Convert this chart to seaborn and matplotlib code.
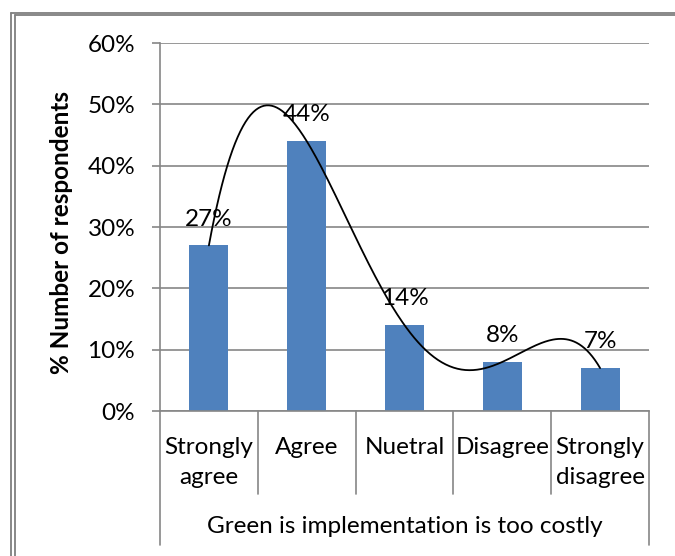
import numpy as np
import pandas as pd
import matplotlib
matplotlib.use("Agg")
import matplotlib.pyplot as plt
import matplotlib.transforms as mtransforms
from matplotlib.lines import Line2D
import seaborn as sns

# Survey responses
categories = ["Strongly\nagree", "Agree", "Nuetral", "Disagree", "Strongly\ndisagree"]
percent = [27, 44, 14, 8, 7]
y_ticks = [0, 10, 20, 30, 40, 50, 60]
group_label = "Green is implementation is too costly"
y_label = "% Number of respondents"

sns.set_style("white")
plt.rcParams["font.family"] = ["Lato", "DejaVu Sans"]

BAR = "#4F81BD"
GRID = "#868686"
FS = 17.5
W, H = 675, 556

fig = plt.figure(figsize=(W / 100, H / 100), dpi=100)
ax = fig.add_axes([160 / W, (H - 411) / H, (649 - 160) / W, (411 - 43) / H])

df = pd.DataFrame({"category": categories, "percent": percent})
sns.barplot(data=df, x="category", y="percent", color=BAR, saturation=1,
            width=0.4, edgecolor="none", ax=ax)

# 4th-order polynomial trend line through the bars
pos = np.arange(len(percent))
coef = np.polyfit(pos, percent, 4)
xs = np.linspace(pos[0], pos[-1], 300)
sns.lineplot(x=xs, y=np.polyval(coef, xs), color="black", lw=1.3, ax=ax,
             sort=False, clip_on=False)

# value labels
for i, v in enumerate(percent):
    ax.annotate(f"{v}%", (i, v), xytext=(0, 19), textcoords="offset points",
                ha="center", va="center", fontsize=FS, color="black")

ax.set_xlim(-0.5, len(percent) - 0.5)
ax.set_ylim(0, 60)
ax.set_yticks(y_ticks)
ax.set_yticklabels([f"{t}%" for t in y_ticks])
ax.yaxis.grid(True, color=GRID, lw=1.2)
ax.set_axisbelow(True)

for s in ["top", "right"]:
    ax.spines[s].set_visible(False)
for s in ["left", "bottom"]:
    ax.spines[s].set_color(GRID)
    ax.spines[s].set_linewidth(1.2)

ax.tick_params(axis="y", length=5.8, width=1.2, color=GRID, pad=12,
               labelsize=FS, labelcolor="black", left=True)
ax.tick_params(axis="x", length=0, pad=19, labelsize=FS, labelcolor="black")
for t in ax.get_xticklabels():
    t.set_linespacing(1.5)

ax.set_xlabel("")
ax.set_ylabel(y_label, fontsize=17.5, fontweight="bold", color="black")
ax.yaxis.set_label_coords(-0.178, (411 - 232) / 368)

# two-level category axis separators
trans = mtransforms.blended_transform_factory(ax.transData, ax.transAxes)
n = len(percent)
for b in np.arange(-0.5, n, 1.0):
    bottom = -0.364 if b in (-0.5, n - 0.5) else -0.2255
    ax.add_line(Line2D([b, b], [0, bottom], transform=trans, color=GRID,
                       lw=1.2, clip_on=False))
ax.text((n - 1) / 2, -0.315, group_label, transform=trans, ha="center",
        va="center", fontsize=FS, color="black")

# chart frame (double line on left, line on top)
for x0, y0 in [(10.5, 13), (15, 15)]:
    fig.add_artist(Line2D([x0 / W, x0 / W], [0, 1 - y0 / H], transform=fig.transFigure,
                          color="#7f7f7f", lw=1.3))
    fig.add_artist(Line2D([x0 / W, 1], [1 - y0 / H, 1 - y0 / H], transform=fig.transFigure,
                          color="#7f7f7f", lw=1.3))

fig.savefig("out.png", dpi=100)
